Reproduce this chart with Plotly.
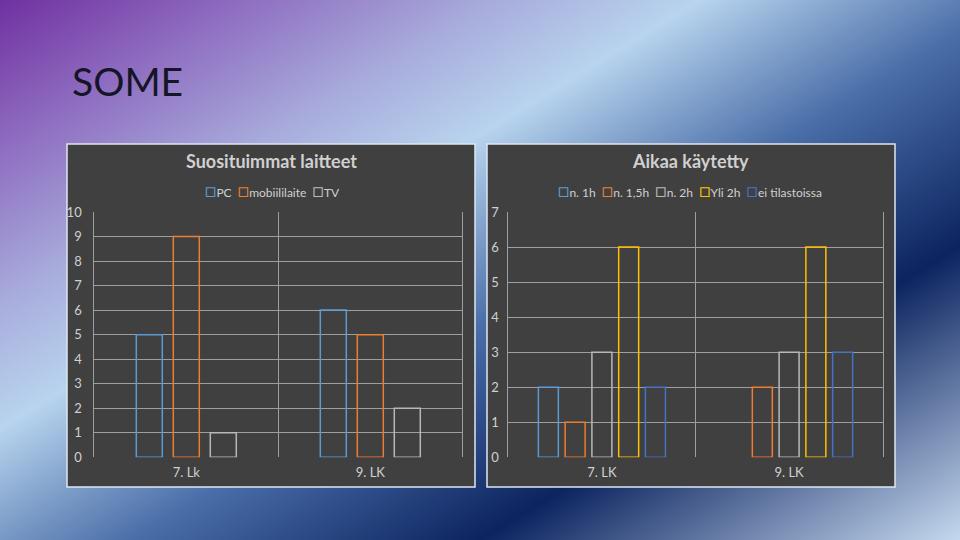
import base64
import plotly.graph_objects as go

# ---------------- data ----------------
device_categories = ["7. Lk", "9. LK"]
pc_values = [5, 6]
mobile_values = [9, 5]
tv_values = [1, 2]

time_categories = ["7. LK", "9. LK"]
n1h_values = [2, 0]
n15h_values = [1, 2]
n2h_values = [3, 3]
over2h_values = [6, 6]
no_stats_values = [2, 3]

left_ticks = list(range(0, 11))
right_ticks = list(range(0, 8))

# ---------------- styles ----------------
W, H = 960, 540
FONT = "Lato"
TXT = "#d0d0d0"
GRID = "#9e9e9e"
BOX = "#404040"

def px(x):
    return x / W

def py(y):
    return 1 - y / H

# background gradient as inline SVG
svg = f"""<svg xmlns='http://www.w3.org/2000/svg' width='{W}' height='{H}' viewBox='0 0 {W} {H}' preserveAspectRatio='none'>
<defs><linearGradient id='g' gradientUnits='userSpaceOnUse' x1='0' y1='0' x2='502' y2='820'>
<stop offset='0' stop-color='#7030a0'/>
<stop offset='0.13' stop-color='#8e6cc0'/>
<stop offset='0.27' stop-color='#a8acdc'/>
<stop offset='0.38' stop-color='#b8d4ee'/>
<stop offset='0.55' stop-color='#4a6ea8'/>
<stop offset='0.74' stop-color='#0c2460'/>
<stop offset='1' stop-color='#c4d8ee'/>
</linearGradient></defs>
<rect x='0' y='0' width='{W}' height='{H}' fill='url(#g)'/>
</svg>"""
bg_src = "data:image/svg+xml;base64," + base64.b64encode(svg.encode()).decode()

fig = go.Figure()

left_series = [("PC", pc_values, "#5b9bd5"),
               ("mobiililaite", mobile_values, "#ed7d31"),
               ("TV", tv_values, "#b8b8b8")]
right_series = [("n. 1h", n1h_values, "#5b9bd5"),
                ("n. 1,5h", n15h_values, "#ed7d31"),
                ("n. 2h", n2h_values, "#b8b8b8"),
                ("Yli 2h", over2h_values, "#ffc000"),
                ("ei tilastoissa", no_stats_values, "#4472c4")]

def add_group(series, cats, unit_px, bar_px, step_px, xa, ya):
    w = bar_px / unit_px
    sp = step_px / unit_px
    mid = (len(series) - 1) / 2
    for i, (name, vals, col) in enumerate(series):
        center = (i - mid) * sp
        fig.add_trace(go.Bar(
            x=cats, y=[v if v else None for v in vals], name=name,
            width=w, offset=center - w / 2, showlegend=False,
            marker=dict(color="rgba(0,0,0,0)", line=dict(color=col, width=1.5)),
            xaxis=xa, yaxis=ya,
        ))

add_group(left_series, device_categories, 184, 26, 37, "x", "y")
add_group(right_series, time_categories, 187.4, 20, 26.8, "x2", "y2")

def legend_text(series):
    parts = [f"<span style='color:{col};font-size:19px'>□</span>{name}" for name, _, col in series]
    return "&nbsp;&nbsp;".join(parts)

axis_font = dict(family=FONT, size=13, color=TXT)
common_x = dict(type="category", tickson="boundaries", showgrid=True, gridcolor=GRID,
                gridwidth=1, ticks="", showline=False, zeroline=False,
                tickfont=axis_font, range=[-0.5, 1.5], ticklabelstandoff=6, fixedrange=True)
common_y = dict(showgrid=True, gridcolor=GRID, gridwidth=1, ticks="", showline=True,
                linecolor=GRID, linewidth=1, mirror=True,
                zeroline=False, tickfont=axis_font, fixedrange=True)

fig.update_layout(
    width=W, height=H,
    margin=dict(l=0, r=0, t=0, b=0, pad=0, autoexpand=False),
    paper_bgcolor="#3d5a94",
    plot_bgcolor="rgba(0,0,0,0)",
    barmode="overlay",
    showlegend=False,
    font=dict(family=FONT, color=TXT),
    xaxis=dict(domain=[px(94.3), px(462.3)], anchor="y", **common_x),
    yaxis=dict(domain=[py(457.3), py(212)], anchor="x", range=[0, 10],
               tickvals=left_ticks, ticklabelstandoff=9, **common_y),
    xaxis2=dict(domain=[px(508.3), px(882.7)], anchor="y2", **common_x),
    yaxis2=dict(domain=[py(457.3), py(212)], anchor="x2", range=[0, 7],
                tickvals=right_ticks, ticklabelstandoff=6, **common_y),
    images=[dict(source=bg_src, xref="paper", yref="paper", x=0, y=1, sizex=1, sizey=1,
                 xanchor="left", yanchor="top", sizing="stretch", layer="below")],
    shapes=[
        dict(type="rect", xref="paper", yref="paper", x0=px(67), x1=px(475), y0=py(487), y1=py(144),
             fillcolor=BOX, line=dict(color="#dde6f2", width=1.5), layer="below"),
        dict(type="rect", xref="paper", yref="paper", x0=px(487), x1=px(895), y0=py(487), y1=py(144),
             fillcolor=BOX, line=dict(color="#dde6f2", width=1.5), layer="below"),
    ],
    annotations=[
        dict(text="SOME", xref="paper", yref="paper", x=px(70), y=py(81), xanchor="left",
             yanchor="middle", showarrow=False,
             font=dict(family=FONT, size=39, color="#151528")),
        dict(text="<b>Suosituimmat laitteet</b>", xref="paper", yref="paper", x=px(271), y=py(161),
             xanchor="center", yanchor="middle", showarrow=False,
             font=dict(family=FONT, size=18, color=TXT)),
        dict(text="<b>Aikaa käytetty</b>", xref="paper", yref="paper", x=px(690), y=py(161),
             xanchor="center", yanchor="middle", showarrow=False,
             font=dict(family=FONT, size=18, color=TXT)),
        dict(text=legend_text(left_series), xref="paper", yref="paper", x=px(272), y=py(189),
             xanchor="center", yanchor="middle", showarrow=False,
             font=dict(family=FONT, size=12, color=TXT)),
        dict(text=legend_text(right_series), xref="paper", yref="paper", x=px(690), y=py(189),
             xanchor="center", yanchor="middle", showarrow=False,
             font=dict(family=FONT, size=12, color=TXT)),
    ],
)

fig.write_html("out.html", config={"displayModeBar": False},
               post_script="document.body.style.margin='0';")
